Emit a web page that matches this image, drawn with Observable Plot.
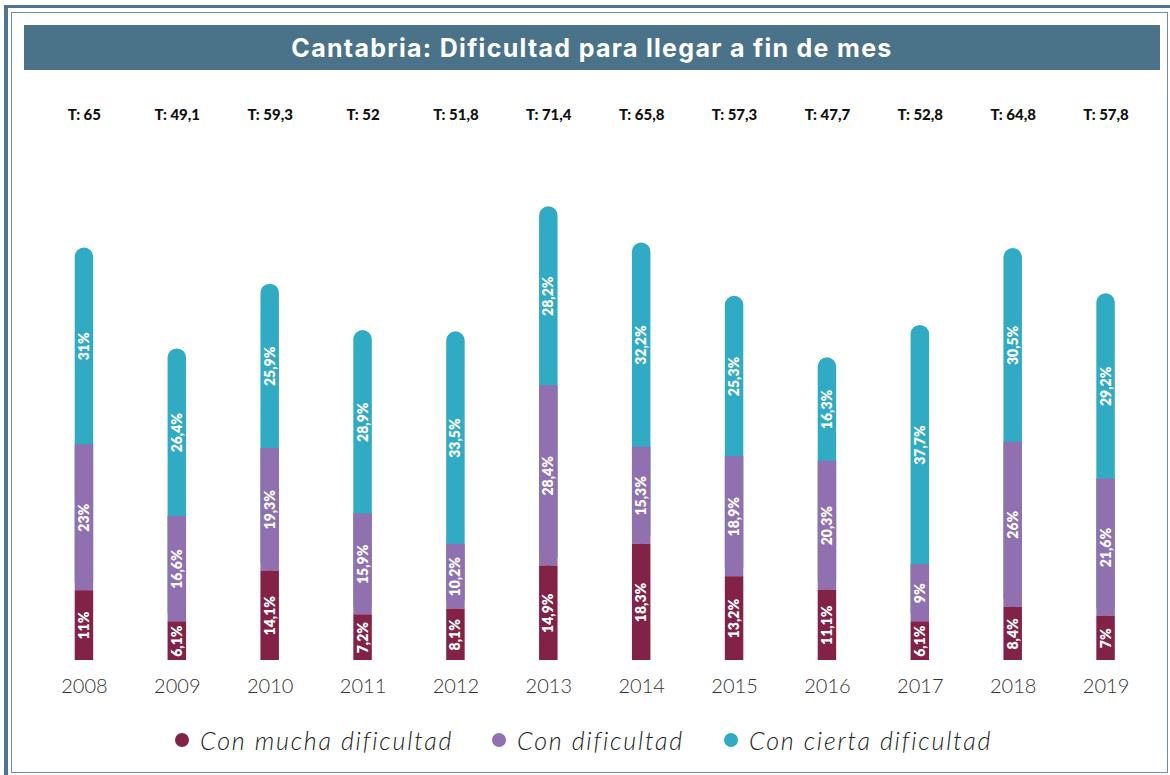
<!DOCTYPE html>
<html>
<head>
<meta charset="utf-8">
<script src="https://cdn.jsdelivr.net/npm/d3@7"></script>
<script src="https://cdn.jsdelivr.net/npm/@observablehq/plot@0.6"></script>
<style>
  html, body { margin: 0; padding: 0; background: #fff; }
  #wrap { position: relative; width: 1170px; height: 775px; overflow: hidden; background: #fff; font-family: Lato, "Noto Sans", sans-serif; }
  .outerTop { position: absolute; left: 4px; top: 5px; width: 1166px; height: 3px; background: #4d7590; }
  .outerLeft { position: absolute; left: 4px; top: 5px; width: 4px; height: 770px; background: #4d7590; }
  .inner { position: absolute; left: 11px; top: 12px; width: 1155px; height: 759px; border: 1.5px solid #6b8fa5; }
  #title { position: absolute; left: 24px; top: 25px; width: 1136px; height: 45px; background: #4a7389; color: #fff;
    font-family: Inter, "Noto Sans", sans-serif; font-weight: 700; font-size: 25px; line-height: 46px; text-align: center; letter-spacing: 1.3px; }
  #chart { position: absolute; left: 0; top: 80px; }
  #legend { position: absolute; top: 725px; left: 0; width: 1170px; height: 30px; }
  .item { position: absolute; top: 0; display: flex; align-items: center; height: 30px; }
  .dot { width: 14px; height: 14px; border-radius: 50%; margin-right: 11px; }
  .lab { font-family: Lato, sans-serif; font-style: italic; font-weight: 300; font-size: 25px; letter-spacing: 1.8px; color: #222; }
</style>
</head>
<body>
<div id="wrap">
  <div class="outerTop"></div>
  <div class="outerLeft"></div>
  <div class="inner"></div>
  <div id="title">Cantabria: Dificultad para llegar a fin de mes</div>
  <div id="chart"></div>
  <div id="legend"></div>
</div>
<script>
const years = ["2008","2009","2010","2011","2012","2013","2014","2015","2016","2017","2018","2019"];
const mucha = [11, 6.1, 14.1, 7.2, 8.1, 14.9, 18.3, 13.2, 11.1, 6.1, 8.4, 7];
const dificultad = [23, 16.6, 19.3, 15.9, 10.2, 28.4, 15.3, 18.9, 20.3, 9, 26, 21.6];
const cierta = [31, 26.4, 25.9, 28.9, 33.5, 28.2, 32.2, 25.3, 16.3, 37.7, 30.5, 29.2];
const totals = [65, 49.1, 59.3, 52, 51.8, 71.4, 65.8, 57.3, 47.7, 52.8, 64.8, 57.8];
const seriesNames = ["Con mucha dificultad", "Con dificultad", "Con cierta dificultad"];
const colors = ["#822246", "#9170b0", "#31aac3"];

const fmt = v => String(v).replace(".", ",");
const rows = years.map((y, i) => ({
  year: y, mucha: mucha[i], dif: dificultad[i], cierta: cierta[i], total: totals[i],
  a: mucha[i], b: mucha[i] + dificultad[i], c: mucha[i] + dificultad[i] + cierta[i]
}));

const inset = 37.2;
const labelOpts = {rotate: -90, fill: "white", fontWeight: 800, fontSize: 14, fontFamily: "Lato, sans-serif"};

const chart = Plot.plot({
  width: 1170,
  height: 620,
  marginTop: 104,
  marginBottom: 40,
  marginLeft: 37.5,
  marginRight: 18,
  style: {background: "transparent", fontFamily: "Lato, sans-serif"},
  x: {domain: years, padding: 0, round: false, label: null},
  y: {domain: [0, 75], axis: null},
  marks: [
    Plot.barY(rows, {x: "year", y1: "a", y2: "c", fill: colors[2], rx: 9.3, insetLeft: inset, insetRight: inset}),
    Plot.barY(rows, {x: "year", y1: "a", y2: "b", fill: colors[1], insetLeft: inset, insetRight: inset}),
    Plot.barY(rows, {x: "year", y1: 0, y2: "a", fill: colors[0], insetLeft: inset, insetRight: inset}),
    Plot.text(rows, {x: "year", y: d => d.a / 2, text: d => fmt(d.mucha) + "%", ...labelOpts}),
    Plot.text(rows, {x: "year", y: d => (d.a + d.b) / 2, text: d => fmt(d.dif) + "%", ...labelOpts}),
    Plot.text(rows, {x: "year", y: d => (d.b + d.c) / 2, text: d => fmt(d.cierta) + "%", ...labelOpts}),
    Plot.text(rows, {x: "year", frameAnchor: "top", lineAnchor: "middle", dy: -69, text: d => "T: " + fmt(d.total),
      fontWeight: 900, fontSize: 15, fill: "#111", fontFamily: "Lato, sans-serif"}),
    Plot.axisX({tickSize: 0, tickPadding: 18, fontSize: 20, fontWeight: 300, fill: "#333", fontFamily: "Lato, sans-serif"})
  ]
});
document.getElementById("chart").appendChild(chart);

const legend = document.getElementById("legend");
const lx = [175, 492, 724];
seriesNames.forEach((name, i) => {
  const it = document.createElement("div");
  it.className = "item";
  it.style.left = lx[i] + "px";
  it.innerHTML = `<span class="dot" style="background:${colors[i]}"></span><span class="lab">${name}</span>`;
  legend.appendChild(it);
});
</script>
</body>
</html>
